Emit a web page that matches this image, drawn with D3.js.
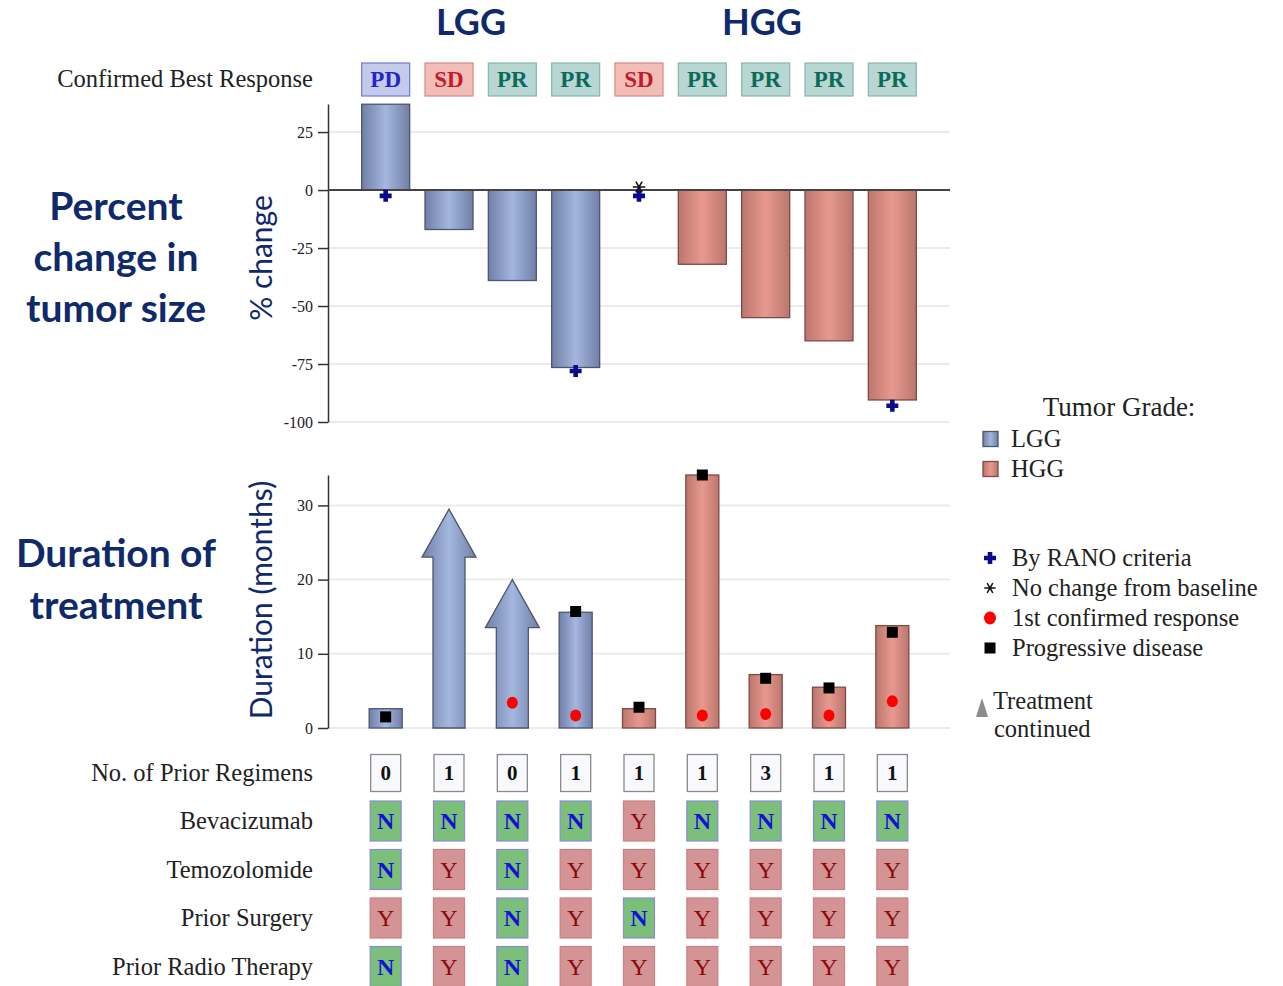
<!DOCTYPE html>
<html><head><meta charset="utf-8">
<script src="https://cdn.jsdelivr.net/npm/d3@7"></script>
<style>body{margin:0;background:#fff}svg{display:block}</style>
</head><body>
<svg id="chart" width="1283" height="986"></svg>
<script>
const categories = ["P1","P2","P3","P4","P5","P6","P7","P8","P9"];
const grade = ["LGG","LGG","LGG","LGG","HGG","HGG","HGG","HGG","HGG"];
const bestResponse = ["PD","SD","PR","PR","SD","PR","PR","PR","PR"];
const pctChange = [37, -17, -39, -76.5, 0, -32, -55, -65, -90.5];
const ranoMarker = [-2.5, null, null, -78, -2.5, null, null, null, -93];
const noChangeMarker = [null, null, null, null, 1.3, null, null, null, null];
const duration = [2.6, 29.5, 20, 15.6, 2.6, 34.1, 7.2, 5.5, 13.8];
const continued = [false, true, true, false, false, false, false, false, false];
const firstResponse = [null, null, 3.4, 1.7, null, 1.7, 1.9, 1.7, 3.6];
const progression = [1.5, null, null, 15.7, 2.8, 34.1, 6.7, 5.4, 12.9];
const priorRegimens = [0, 1, 0, 1, 1, 1, 3, 1, 1];
const bevacizumab = ["N","N","N","N","Y","N","N","N","N"];
const temozolomide = ["N","Y","N","Y","Y","Y","Y","Y","Y"];
const priorSurgery = ["Y","Y","N","Y","N","Y","Y","Y","Y"];
const priorRadio = ["N","Y","N","Y","Y","Y","Y","Y","Y"];
const pctTicks = [25, 0, -25, -50, -75, -100];
const durTicks = [0, 10, 20, 30];

const svg = d3.select("#chart");
const navy = "#0f2a6b";
const serif = "'Liberation Serif','Times New Roman',serif";
const sans = "Lato, 'Open Sans', sans-serif";

const x = d3.scaleBand().domain(categories).range([354, 924]);
const cx = c => x(c) + x.bandwidth() / 2;
const yTop = d3.scaleLinear().domain([-100, 37.1]).range([422, 104]);
const yBot = d3.scaleLinear().domain([0, 34.1]).range([728, 475]);

// gradients
const defs = svg.append("defs");
function grad(id, edge, mid) {
  const g = defs.append("linearGradient").attr("id", id).attr("x1", 0).attr("x2", 1).attr("y1", 0).attr("y2", 0);
  g.append("stop").attr("offset", "0%").attr("stop-color", edge);
  g.append("stop").attr("offset", "50%").attr("stop-color", mid);
  g.append("stop").attr("offset", "100%").attr("stop-color", edge);
}
grad("gLGG", "#717fa5", "#a3b7df");
grad("gHGG", "#bb766d", "#e8998f");
const fillOf = g => g === "LGG" ? "url(#gLGG)" : "url(#gHGG)";
const strokeOf = g => g === "LGG" ? "#4b5672" : "#7d4a45";

// titles
svg.append("text").attr("x", 471).attr("y", 35).attr("text-anchor", "middle")
  .attr("font-family", sans).attr("font-weight", 700).attr("font-size", 36).attr("fill", navy).text("LGG");
svg.append("text").attr("x", 762).attr("y", 35).attr("text-anchor", "middle")
  .attr("font-family", sans).attr("font-weight", 700).attr("font-size", 36).attr("fill", navy).text("HGG");

// left labels
const leftLabels = [["Percent", 220], ["change in", 271], ["tumor size", 322], ["Duration of", 567], ["treatment", 619]];
leftLabels.forEach(([t, y]) => svg.append("text").attr("x", 116).attr("y", y).attr("text-anchor", "middle")
  .attr("font-family", sans).attr("font-weight", 700).attr("font-size", 39).attr("fill", navy).text(t));

// axis titles
svg.append("text").attr("transform", "translate(272,258) rotate(-90)").attr("text-anchor", "middle")
  .attr("font-family", sans).attr("font-size", 30).attr("fill", navy).text("% change");
svg.append("text").attr("transform", "translate(272,600) rotate(-90)").attr("text-anchor", "middle")
  .attr("font-family", sans).attr("font-size", 30).attr("fill", navy).text("Duration (months)");

// confirmed best response
svg.append("text").attr("x", 313).attr("y", 87).attr("text-anchor", "end")
  .attr("font-family", serif).attr("font-size", 24.5).attr("fill", "#222").text("Confirmed Best Response");
const respStyle = {
  PD: {fill: "#c4cbea", stroke: "#6f78dc", text: "#2525c8"},
  SD: {fill: "#f3bdb7", stroke: "#dc8484", text: "#c41a2a"},
  PR: {fill: "#b8d7d2", stroke: "#86b5ad", text: "#0d6a5a"}
};
const rg = svg.append("g");
categories.forEach((c, i) => {
  const s = respStyle[bestResponse[i]];
  rg.append("rect").attr("x", cx(c) - 24).attr("y", 63).attr("width", 48).attr("height", 33)
    .attr("fill", s.fill).attr("stroke", s.stroke).attr("stroke-width", 1.2);
  rg.append("text").attr("x", cx(c)).attr("y", 87).attr("text-anchor", "middle")
    .attr("font-family", serif).attr("font-weight", 700).attr("font-size", 23).attr("fill", s.text).text(bestResponse[i]);
});

// top chart grid
const gridTop = svg.append("g");
pctTicks.forEach(t => gridTop.append("line").attr("x1", 328).attr("x2", 950)
  .attr("y1", yTop(t)).attr("y2", yTop(t)).attr("stroke", "#ebebeb").attr("stroke-width", 2));

const fmt = d => String(d);
// top axis
const axT = svg.append("g").attr("transform", "translate(328,0)")
  .call(d3.axisLeft(yTop).tickValues(pctTicks).tickFormat(fmt).tickSize(10).tickPadding(5).tickSizeOuter(0));
axT.select(".domain").attr("stroke", "#333").attr("stroke-width", 1.5);
axT.selectAll(".tick line").attr("stroke", "#333").attr("stroke-width", 1.5);
axT.selectAll(".tick text").attr("font-family", serif).attr("font-size", 16).attr("fill", "#222");

// top bars
svg.append("g").selectAll("rect").data(categories).join("rect")
  .attr("x", c => cx(c) - 24).attr("width", 48)
  .attr("y", (c, i) => yTop(Math.max(0, pctChange[i])))
  .attr("height", (c, i) => Math.abs(yTop(pctChange[i]) - yTop(0)))
  .attr("fill", (c, i) => fillOf(grade[i])).attr("stroke", (c, i) => strokeOf(grade[i])).attr("stroke-width", 1.3)
  .attr("display", (c, i) => pctChange[i] === 0 ? "none" : null);

// zero line
svg.append("line").attr("x1", 328).attr("x2", 950).attr("y1", yTop(0)).attr("y2", yTop(0))
  .attr("stroke", "#444").attr("stroke-width", 2);

// rano markers (plus)
const plusPath = "M-2.3,-6 H2.3 V-2.3 H6 V2.3 H2.3 V6 H-2.3 V2.3 H-6 V-2.3 H-2.3 Z";
svg.append("g").selectAll("path").data(categories.filter((c, i) => ranoMarker[i] !== null)).join("path")
  .attr("d", plusPath).attr("fill", "#0a0a8c")
  .attr("transform", c => `translate(${cx(c)},${yTop(ranoMarker[categories.indexOf(c)])})`);
// asterisk
svg.append("g").selectAll("path").data(categories.filter((c, i) => noChangeMarker[i] !== null)).join("path")
  .attr("d", d3.symbol(d3.symbolAsterisk, 110)()).attr("fill", "none").attr("stroke", "#111").attr("stroke-width", 1.6)
  .attr("transform", c => `translate(${cx(c)},${yTop(noChangeMarker[categories.indexOf(c)])}) rotate(90)`);

// bottom grid
durTicks.forEach(t => svg.append("line").attr("x1", 328).attr("x2", 950)
  .attr("y1", yBot(t)).attr("y2", yBot(t)).attr("stroke", "#ebebeb").attr("stroke-width", 2));
const axB = svg.append("g").attr("transform", "translate(328,0)")
  .call(d3.axisLeft(yBot).tickValues(durTicks).tickFormat(fmt).tickSize(10).tickPadding(5).tickSizeOuter(0));
axB.select(".domain").attr("stroke", "#333").attr("stroke-width", 1.5);
axB.selectAll(".tick line").attr("stroke", "#333").attr("stroke-width", 1.5);
axB.selectAll(".tick text").attr("font-family", serif).attr("font-size", 16).attr("fill", "#222");

// bottom bars / arrows
const bb = svg.append("g");
categories.forEach((c, i) => {
  const xc = cx(c), y0 = yBot(0), y1 = yBot(duration[i]);
  if (continued[i]) {
    const headBase = y1 + 48;
    const pts = [[xc - 16, y0], [xc - 16, headBase], [xc - 27, headBase], [xc, y1], [xc + 27, headBase], [xc + 16, headBase], [xc + 16, y0]];
    bb.append("path").attr("d", d3.line()(pts) + "Z")
      .attr("fill", fillOf(grade[i])).attr("stroke", strokeOf(grade[i])).attr("stroke-width", 1.3);
  } else {
    bb.append("rect").attr("x", xc - 16.5).attr("width", 33).attr("y", y1).attr("height", y0 - y1)
      .attr("fill", fillOf(grade[i])).attr("stroke", strokeOf(grade[i])).attr("stroke-width", 1.3);
  }
});
// red dots
svg.append("g").selectAll("ellipse").data(categories.filter((c, i) => firstResponse[i] !== null)).join("ellipse")
  .attr("cx", c => cx(c)).attr("cy", c => yBot(firstResponse[categories.indexOf(c)]))
  .attr("rx", 5.5).attr("ry", 6).attr("fill", "#ff0000");
// black squares
svg.append("g").selectAll("rect").data(categories.filter((c, i) => progression[i] !== null)).join("rect")
  .attr("x", c => cx(c) - 5.5).attr("y", c => yBot(progression[categories.indexOf(c)]) - 5.5)
  .attr("width", 11).attr("height", 11).attr("fill", "#000");

// table
const rows = [
  {label: "No. of Prior Regimens", vals: priorRegimens, y: 773},
  {label: "Bevacizumab", vals: bevacizumab, y: 821},
  {label: "Temozolomide", vals: temozolomide, y: 869.5},
  {label: "Prior Surgery", vals: priorSurgery, y: 918},
  {label: "Prior Radio Therapy", vals: priorRadio, y: 966.5}
];
const tg = svg.append("g");
rows.forEach((r, ri) => {
  tg.append("text").attr("x", 313).attr("y", r.y + 8).attr("text-anchor", "end")
    .attr("font-family", serif).attr("font-size", 24.5).attr("fill", "#222").text(r.label);
  categories.forEach((c, i) => {
    const v = r.vals[i];
    if (ri === 0) {
      tg.append("rect").attr("x", cx(c) - 15).attr("y", r.y - 18.5).attr("width", 30).attr("height", 37)
        .attr("fill", "#f8f9fd").attr("stroke", "#8a8a8a").attr("stroke-width", 1.3);
      tg.append("text").attr("x", cx(c)).attr("y", r.y + 7).attr("text-anchor", "middle")
        .attr("font-family", serif).attr("font-weight", 700).attr("font-size", 21).attr("fill", "#111").text(v);
    } else {
      const isN = v === "N";
      tg.append("rect").attr("x", cx(c) - 15.5).attr("y", r.y - 20).attr("width", 31).attr("height", 40)
        .attr("fill", isN ? "#7cbf7b" : "#d49495").attr("stroke", isN ? "#8a8ad8" : "#cc7f82").attr("stroke-width", 1.2);
      tg.append("text").attr("x", cx(c)).attr("y", r.y + 8).attr("text-anchor", "middle")
        .attr("font-family", serif).attr("font-weight", isN ? 700 : 400).attr("font-size", 24)
        .attr("fill", isN ? "#1212d6" : "#8a0a0a").text(v);
    }
  });
});

// legend
const lg = svg.append("g").attr("font-family", serif).attr("font-size", 24.5).attr("fill", "#222");
lg.append("text").attr("x", 1119).attr("y", 416).attr("text-anchor", "middle").attr("font-size", 27).text("Tumor Grade:");
[["LGG", 439], ["HGG", 469]].forEach(([g, y]) => {
  lg.append("rect").attr("x", 983).attr("y", y - 7.5).attr("width", 15).attr("height", 15)
    .attr("fill", fillOf(g)).attr("stroke", strokeOf(g)).attr("stroke-width", 1.3);
  lg.append("text").attr("x", 1011).attr("y", y + 8).text(g);
});
const legItems = [["By RANO criteria", 558], ["No change from baseline", 588], ["1st confirmed response", 618], ["Progressive disease", 648]];
lg.append("path").attr("d", plusPath).attr("fill", "#0a0a8c").attr("transform", "translate(990,558)");
lg.append("path").attr("d", d3.symbol(d3.symbolAsterisk, 90)()).attr("fill", "none").attr("stroke", "#111").attr("stroke-width", 1.5).attr("transform", "translate(990,588) rotate(90)");
lg.append("ellipse").attr("cx", 990).attr("cy", 618).attr("rx", 6).attr("ry", 6.5).attr("fill", "#ff0000");
lg.append("rect").attr("x", 984.5).attr("y", 642.5).attr("width", 11).attr("height", 11).attr("fill", "#000");
legItems.forEach(([t, y]) => lg.append("text").attr("x", 1012).attr("y", y + 8).text(t));
lg.append("path").attr("d", "M976,717 L982,698 L988,717 Z").attr("fill", "#8c8c8c");
lg.append("text").attr("x", 993).attr("y", 709).text("Treatment");
lg.append("text").attr("x", 994).attr("y", 737).text("continued");
</script>
</body></html>
